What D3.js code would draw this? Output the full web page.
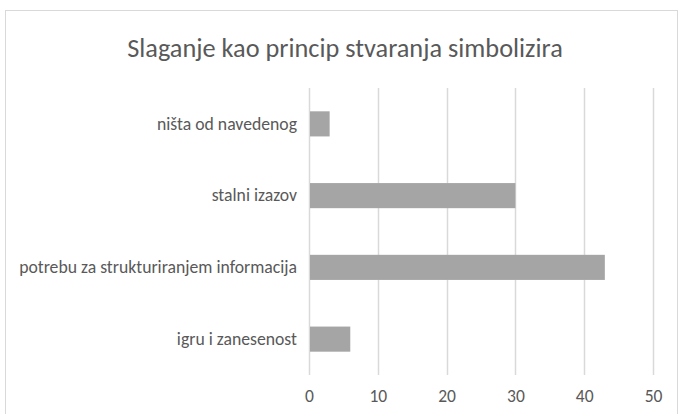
<!DOCTYPE html>
<html>
<head>
<meta charset="utf-8">
<script src="https://cdn.jsdelivr.net/npm/d3@7"></script>
<style>
  body { margin: 0; background: #fff; }
  text { font-family: Calibri, Carlito, Lato, sans-serif; fill: #595959; }
</style>
</head>
<body>
<div id="chart"></div>
<script>
var width = 679;
var height = 414;

var title = "Slaganje kao princip stvaranja simbolizira";
var categories = ["ništa od navedenog", "stalni izazov", "potrebu za strukturiranjem informacija", "igru i zanesenost"];
var values = [3, 30, 43, 6];
var ticks = [0, 10, 20, 30, 40, 50];

var margin = {top: 88, right: 26, bottom: 39, left: 309};

var svg = d3.select("#chart")
        .append("svg")
        .attr("width", width)
        .attr("height", height);

// chart frame
svg.append("rect")
    .attr("x", 5.5)
    .attr("y", 10.5)
    .attr("width", width - 7)
    .attr("height", height + 20)
    .attr("fill", "#fff")
    .attr("stroke", "#d9d9d9");

svg.append("text")
    .attr("x", 345)
    .attr("y", 57)
    .attr("text-anchor", "middle")
    .style("font-size", "26.3px")
    .text(title);

var x = d3.scaleLinear()
    .domain([0, 50])
    .range([margin.left, width - margin.right]);

var y = d3.scaleBand()
    .domain(categories)
    .range([margin.top, height - margin.bottom])
    .paddingInner(0.65)
    .paddingOuter(0.325);

// gridlines
svg.selectAll("line.grid")
    .data(ticks)
    .enter()
    .append("line")
    .attr("class", "grid")
    .attr("x1", function(d){ return Math.round(x(d)) + 0.5; })
    .attr("x2", function(d){ return Math.round(x(d)) + 0.5; })
    .attr("y1", margin.top)
    .attr("y2", height - margin.bottom)
    .attr("stroke", "#d9d9d9")
    .attr("stroke-width", 1.5);

svg.selectAll("rect.bar")
    .data(values)
    .enter()
    .append("rect")
    .attr("class", "bar")
    .attr("x", x(0) + 1)
    .attr("y", function(d, i){ return y(categories[i]); })
    .attr("width", function(d){ return x(d) - x(0) - 1; })
    .attr("height", y.bandwidth())
    .attr("fill", "#a5a5a5");

// axes, drawn with d3.axis and then stripped of lines
var xAxis = svg.append("g")
    .attr("transform", "translate(0," + (height - margin.bottom) + ")")
    .call(d3.axisBottom(x).tickValues(ticks).tickSize(0).tickPadding(15));
xAxis.select(".domain").remove();
xAxis.selectAll("text")
    .style("font-size", "17.5px")
    .style("font-family", "Calibri, Carlito, Lato, sans-serif")
    .attr("fill", "#595959");

var yAxis = svg.append("g")
    .attr("transform", "translate(" + margin.left + ",0)")
    .call(d3.axisLeft(y).tickSize(0).tickPadding(12));
yAxis.select(".domain").remove();
yAxis.selectAll("text")
    .style("font-size", "17.7px")
    .style("font-family", "Calibri, Carlito, Lato, sans-serif")
    .attr("fill", "#595959");
</script>
</body>
</html>
